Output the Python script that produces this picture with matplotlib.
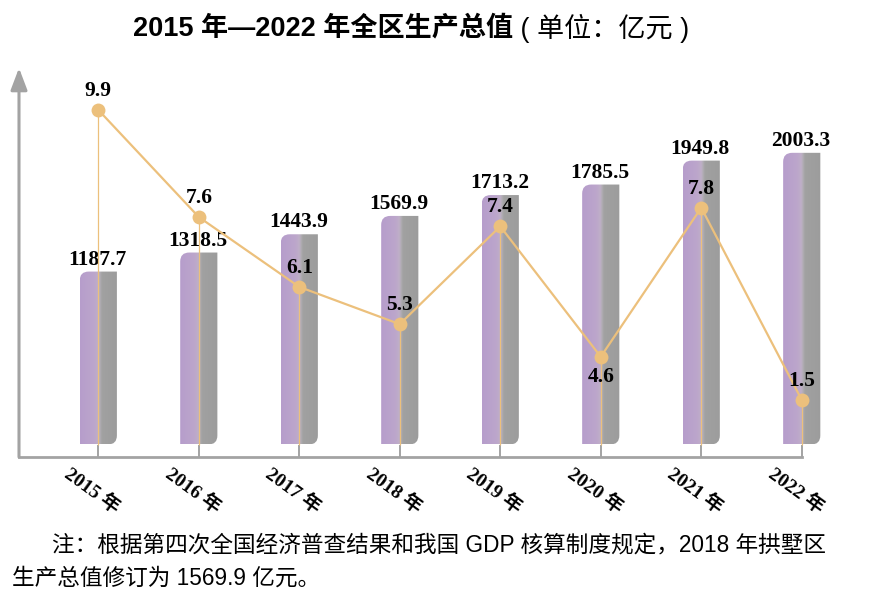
import numpy as np
import matplotlib
matplotlib.use("Agg")
import matplotlib.pyplot as plt
from matplotlib.path import Path
from matplotlib.patches import PathPatch

# ---------------- data ----------------
years = ["2015", "2016", "2017", "2018", "2019", "2020", "2021", "2022"]
year_labels = [y + " 年" for y in years]
gdp = [1187.7, 1318.5, 1443.9, 1569.9, 1713.2, 1785.5, 1949.8, 2003.3]
growth = [9.9, 7.6, 6.1, 5.3, 7.4, 4.6, 7.8, 1.5]
gdp_labels = ["1187.7", "1318.5", "1443.9", "1569.9", "1713.2", "1785.5", "1949.8", "2003.3"]
growth_labels = ["9.9", "7.6", "6.1", "5.3", "7.4", "4.6", "7.8", "1.5"]
title_bold = "2015 年—2022 年全区生产总值"
title_reg = " ( 单位：亿元 )"
note1 = "注：根据第四次全国经济普查结果和我国 GDP 核算制度规定，2018 年拱墅区"
note2 = "生产总值修订为 1569.9 亿元。"

# ---------------- style ----------------
W, H = 869, 598
AXC = "#a3a3a3"
LINEC = "#ecc07c"
SERIF = ["Liberation Serif", "Noto Sans CJK SC"]
SANS = ["Liberation Sans", "Noto Sans CJK SC"]

fig = plt.figure(figsize=(W / 100, H / 100), dpi=100)
fig.patch.set_facecolor("white")

ax_left, ax_right, ax_bot, ax_top = 19, 840, 457, 68
ax = fig.add_axes([ax_left / W, (H - ax_bot) / H, (ax_right - ax_left) / W, (ax_bot - ax_top) / H])
x = np.arange(len(years))
step = 100.49
c0 = 98.3
ax.set_xlim(-(c0 - ax_left) / step, (ax_right - c0) / step)
ppu = 0.1456  # px per unit
ax.set_ylim(-(ax_bot - 444.5) / ppu, (444.5 - ax_top) / ppu)
ax.set_facecolor("none")

for s in ["top", "right", "left"]:
    ax.spines[s].set_visible(False)
ax.spines["bottom"].set_color(AXC)
ax.spines["bottom"].set_linewidth(2.0)
ax.spines["bottom"].set_bounds(ax.get_xlim()[0], x[-1])
ax.set_xticks(x)
ax.set_xticklabels([])
ax.tick_params(axis="x", direction="in", length=8.8, width=1.4, color=AXC)
ax.set_yticks([])

# y axis arrow
ax.annotate("", xy=(0, 1), xycoords="axes fraction", xytext=(0, 0), textcoords="axes fraction",
            arrowprops=dict(arrowstyle="-|>,head_width=0.36,head_length=0.95", mutation_scale=14,
                            color=AXC, lw=2.2, shrinkA=0, shrinkB=0), annotation_clip=False)

# gradient for bars
stops = [(0.0, (182, 157, 204)), (0.38, (188, 166, 203)), (0.48, (191, 175, 200)),
         (0.53, (177, 173, 179)), (0.58, (161, 161, 161)), (1.0, (156, 156, 156))]
N = 200
tt = np.linspace(0, 1, N)
grad = np.zeros((1, N, 3))
for ch in range(3):
    grad[0, :, ch] = np.interp(tt, [s[0] for s in stops], [s[1][ch] for s in stops]) / 255.0

bars = ax.bar(x, gdp, width=0.37, color="none", edgecolor="none")
rpx = 9.0
rx = rpx / step
ry = rpx / ppu
for b in bars:
    x0, w, h = b.get_x(), b.get_width(), b.get_height()
    x1 = x0 + w
    verts = [(x0, 0), (x1 - rx, 0), (x1, 0), (x1, ry), (x1, h), (x0 + rx, h), (x0, h), (x0, h - ry), (x0, 0)]
    codes = [Path.MOVETO, Path.LINETO, Path.CURVE3, Path.CURVE3, Path.LINETO, Path.LINETO,
             Path.CURVE3, Path.CURVE3, Path.CLOSEPOLY]
    pp = PathPatch(Path(verts, codes), transform=ax.transData, facecolor="none", edgecolor="none")
    ax.add_patch(pp)
    im = ax.imshow(grad, extent=[x0, x1, 0, h], aspect="auto", interpolation="bilinear", zorder=2)
    im.set_clip_path(pp)

for xi, v, lab in zip(x, gdp, gdp_labels):
    ax.annotate(lab, xy=(xi, v), xytext=(-1, 2), textcoords="offset pixels", ha="center", va="bottom",
                fontsize=15.5, fontweight="bold", family=SERIF, color="black", zorder=5)

xl = ax.get_xlim()
yl = ax.get_ylim()
ax.set_xlim(xl)
ax.set_ylim(yl)

# x tick labels
for xi, lab in zip(x, year_labels):
    ax.annotate(lab, xy=(xi, 0), xycoords=("data", "axes fraction"), xytext=(-6, -34),
                textcoords="offset pixels", ha="center", va="center", rotation=-36,
                rotation_mode="anchor", fontsize=14, fontweight="bold", family=SERIF,
                annotation_clip=False)

# ---------------- growth line on twin axis ----------------
ax2 = ax.twinx()
for s in ax2.spines.values():
    s.set_visible(False)
K = 13.9 / 46.57
BRK = 4.6


def fwd(v):
    v = np.asarray(v, dtype=float)
    return np.where(v >= BRK, v, BRK - (BRK - v) * K)


def inv(u):
    u = np.asarray(u, dtype=float)
    return np.where(u >= BRK, u, BRK - (BRK - u) / K)


ax2.set_yscale("function", functions=(fwd, inv))
ax2.set_ylim(inv(2.448), 10.80)
ax2.set_yticks([])
ax2.set_xlim(xl)

disp = ax.transData.transform((0, 0))
base = ax2.transData.inverted().transform(disp)[1]
ax2.vlines(x, base, growth, color=LINEC, lw=0.9, zorder=3)
ax2.plot(x, growth, "-", color=LINEC, lw=1.6, zorder=4)
ax2.plot(x, growth, "o", color=LINEC, ms=10, mec="none", zorder=5)
for xi, v, lab in zip(x, growth, growth_labels):
    if lab == "4.6":
        ax2.annotate(lab, xy=(xi, v), xytext=(0, -10), textcoords="offset pixels", ha="center", va="top",
                     fontsize=15.5, fontweight="bold", family=SERIF, zorder=6)
    else:
        ax2.annotate(lab, xy=(xi, v), xytext=(0, 9), textcoords="offset pixels", ha="center", va="bottom",
                     fontsize=15.5, fontweight="bold", family=SERIF, zorder=6)

# ---------------- title and notes ----------------
t1 = fig.text(133 / W, 1 - 28 / H, title_bold, ha="left", va="center", fontsize=19.5,
              fontweight="bold", family=SANS)
fig.canvas.draw()
ax.annotate(title_reg, xy=(1, 0.5), xycoords=t1, ha="left", va="center", fontsize=19.5,
            fontweight="normal", family=SANS, annotation_clip=False)

fig.text(52 / W, 1 - 545 / H, note1, ha="left", va="center", fontsize=16.3, family=SANS)
fig.text(12 / W, 1 - 578 / H, note2, ha="left", va="center", fontsize=16.3, family=SANS)

fig.savefig("out.png", dpi=100, facecolor="white")
